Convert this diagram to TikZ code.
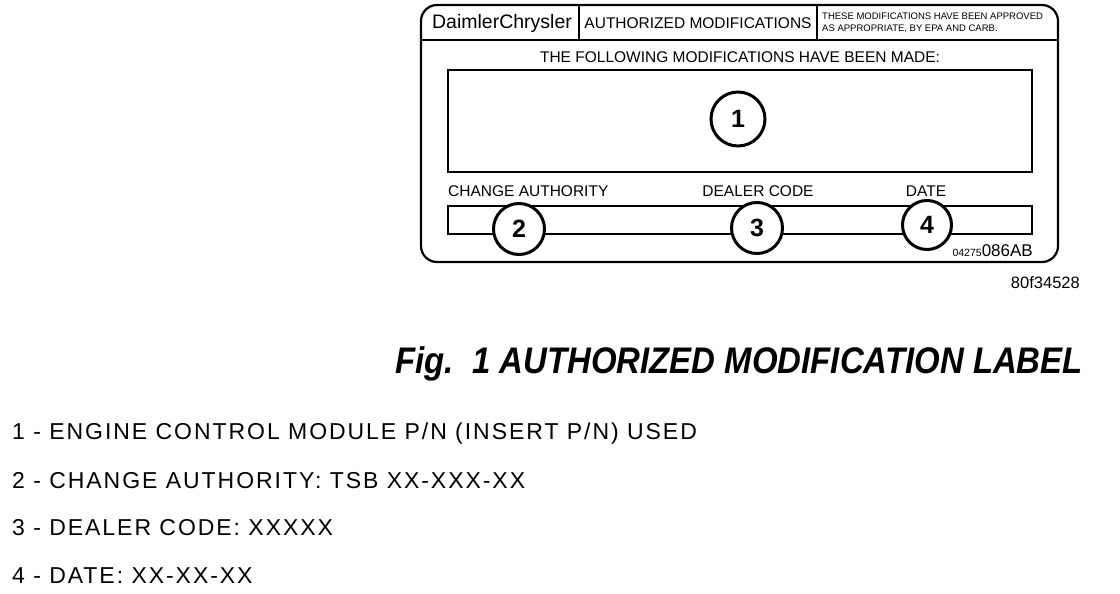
\documentclass[tikz,border=0pt]{standalone}
\usepackage{fontspec}
\setmainfont{Liberation Sans}
\newfontfamily\legendfont[LetterSpace=8.5]{Liberation Sans}
\newfontfamily\titlefont[FakeStretch=0.89]{Liberation Sans}
\begin{document}
\begin{tikzpicture}[x=1pt,y=-1pt,
  thick line/.style={line width=2.2pt},
  num/.style={circle,draw,line width=3pt,fill=white,minimum size=51pt,inner sep=0pt,font=\fontsize{25}{25}\selectfont\bfseries},
  lbl/.style={font=\fontsize{15.5}{15.5}\selectfont,inner sep=0pt},
  item/.style={font=\legendfont\fontsize{23}{23}\selectfont,anchor=west,inner sep=0pt}]
\useasboundingbox (0,0) rectangle (1120,594);
% outer label
\draw[thick line,rounded corners=16pt] (421,5) rectangle (1058,262);
\draw[line width=1.6pt] (421,40) -- (1058,40);
\draw[line width=1.6pt] (579,5) -- (579,40);
\draw[line width=1.6pt] (817,5) -- (817,40);
\node[lbl,font=\fontsize{19.5}{19.5}\selectfont] (brand) at (502,23) {DaimlerChrysler};
\node[lbl,font=\fontsize{15.5}{15.5}\selectfont] (auth) at (698,23) {AUTHORIZED MODIFICATIONS};
\node[lbl,font=\fontsize{9.5}{12}\selectfont,anchor=west,align=left] (epa) at (822,23) {THESE MODIFICATIONS HAVE BEEN APPROVED\\AS APPROPRIATE, BY EPA AND CARB.};
\node[lbl,font=\fontsize{15.5}{15.5}\selectfont] (follow) at (740,57) {THE FOLLOWING MODIFICATIONS HAVE BEEN MADE:};
\draw[thick line] (448,70) rectangle (1032,172);
\node[num,minimum size=54pt] (n1) at (738,119) {1};
\node[lbl,anchor=west] (ca) at (448,191) {CHANGE AUTHORITY};
\node[lbl] (dc) at (758,191) {DEALER CODE};
\node[lbl] (dt) at (926,191) {DATE};
\draw[thick line] (448,206) rectangle (1032,234);
\node[num] (n2) at (519,229) {2};
\node[num] (n3) at (757,228) {3};
\node[num,minimum size=49pt] (n4) at (927,225) {4};
\node[lbl,anchor=south east] (code) at (1033,257) {{\fontsize{10.5}{10.5}\selectfont 04275}{\fontsize{17}{17}\selectfont 086AB}};
\node[lbl,anchor=east,font=\fontsize{16.5}{16.5}\selectfont] (ref) at (1080,283) {80f34528};
% title
\node[anchor=east,inner sep=0pt,font=\titlefont\fontsize{37}{37}\selectfont\bfseries\itshape] (title) at (1083,364) {Fig.\ \ 1 AUTHORIZED MODIFICATION LABEL};
% legend
\node[item] (i1) at (12,434) {1 - ENGINE CONTROL MODULE P/N (INSERT P/N) USED};
\node[item] (i2) at (12,481) {2 - CHANGE AUTHORITY: TSB XX-XXX-XX};
\node[item] (i3) at (12,528) {3 - DEALER CODE: XXXXX};
\node[item] (i4) at (12,576) {4 - DATE: XX-XX-XX};
\end{tikzpicture}
\end{document}
